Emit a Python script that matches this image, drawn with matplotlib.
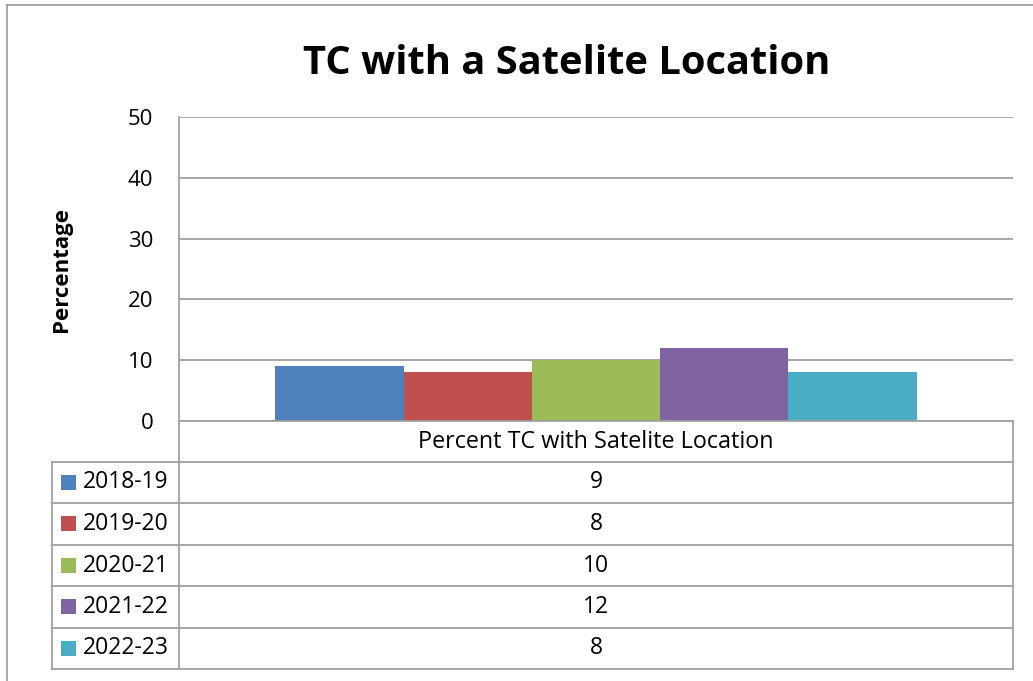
import matplotlib
matplotlib.use("Agg")
import matplotlib.pyplot as plt
from matplotlib.lines import Line2D
from matplotlib.patches import Rectangle

# ---- data ----
title = "TC with a Satelite Location"
category = "Percent TC with Satelite Location"
series_names = ["2018-19", "2019-20", "2020-21", "2021-22", "2022-23"]
values = [9, 8, 10, 12, 8]
colors = ["#4F81BD", "#C0504D", "#9BBB59", "#8064A2", "#4BACC6"]
y_ticks = [0, 10, 20, 30, 40, 50]
y_label = "Percentage"

W, H = 1033, 681
FONT = "Open Sans"
plt.rcParams["font.family"] = [FONT, "DejaVu Sans"]

fig = plt.figure(figsize=(W / 100, H / 100), dpi=100)

def fx(x):
    return x / W

def fy(y):
    return 1 - y / H

GRID = "#A0A0A0"
LW = 1.3
FS = 16.5

# plot area
pl, pr, pt, pb = 179, 1013, 117, 421
ax = fig.add_axes([fx(pl), fy(pb), fx(pr - pl), (pb - pt) / H])
n = len(values)
gap = 1.5  # gap width relative to bar width
bw = 1.0 / (n + gap)
start = gap * bw / 2
for i, (v, c) in enumerate(zip(values, colors)):
    ax.bar(start + i * bw, v, width=bw, align="edge", color=c, zorder=3)
ax.set_xlim(0, 1)
ax.set_ylim(0, 50)
ax.set_yticks(y_ticks)
ax.set_yticklabels([str(t) for t in y_ticks], fontsize=16)
ax.tick_params(axis="y", length=0, pad=18.5)
ax.set_xticks([])
ax.grid(axis="y", color=GRID, linewidth=LW, zorder=0)
for s in ["top", "right", "bottom"]:
    ax.spines[s].set_visible(False)
ax.spines["left"].set_color(GRID)
ax.spines["left"].set_linewidth(LW)

fig.text(fx(61), fy(269), y_label, rotation=90, ha="center", va="center",
         fontsize=16, fontweight="bold")
fig.text(fx(567), fy(63), title, ha="center", va="center",
         fontsize=28.7, fontweight="bold")

# data table
row_edges = [421, 462, 503, 545, 586, 628, 669]
tl, tm, tr = 52, 179, 1013

def hline(x0, x1, y):
    fig.add_artist(Line2D([fx(x0), fx(x1)], [fy(y), fy(y)], color=GRID, lw=LW))

def vline(x, y0, y1):
    fig.add_artist(Line2D([fx(x), fx(x)], [fy(y0), fy(y1)], color=GRID, lw=LW))

hline(tm, tr, row_edges[0])
for y in row_edges[1:]:
    hline(tl, tr, y)
vline(tm, row_edges[0], row_edges[-1])
vline(tr, row_edges[0], row_edges[-1])
vline(tl, row_edges[1], row_edges[-1])

fig.text(fx((tm + tr) / 2), fy((row_edges[0] + row_edges[1]) / 2), category,
         ha="center", va="center", fontsize=16.8)
for i, (name, v, c) in enumerate(zip(series_names, values, colors)):
    yc = (row_edges[i + 1] + row_edges[i + 2]) / 2
    fig.add_artist(Rectangle((fx(61), fy(yc + 7)), fx(15), 15 / H,
                             facecolor=c, edgecolor="none"))
    fig.text(fx(83), fy(yc), name, ha="left", va="center", fontsize=FS)
    fig.text(fx((tm + tr) / 2), fy(yc), str(v), ha="center", va="center",
             fontsize=FS)

# outer chart border
fig.add_artist(Line2D([fx(7), fx(W + 5)], [fy(5), fy(5)], color=GRID, lw=LW))
fig.add_artist(Line2D([fx(7), fx(7)], [fy(5), fy(H + 5)], color=GRID, lw=LW))

fig.savefig("out.png", dpi=100, facecolor="white")
